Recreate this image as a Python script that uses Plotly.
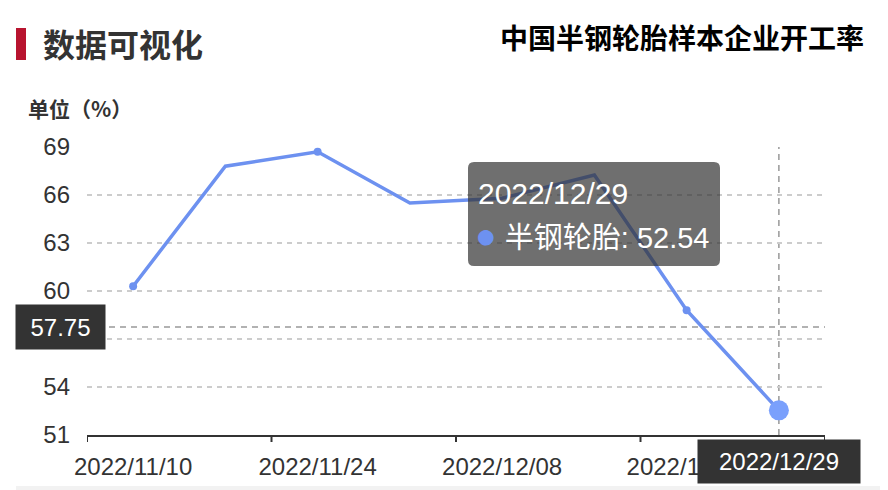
import plotly.graph_objects as go

# weekly semi-steel tyre operating rate (%)
dates = ["2022/11/10", "2022/11/17", "2022/11/24", "2022/12/01",
         "2022/12/08", "2022/12/15", "2022/12/22", "2022/12/29"]
rates = [60.3, 67.8, 68.7, 65.5, 65.8, 67.25, 58.8, 52.54]
y_ticks = [51, 54, 57, 60, 63, 66, 69]
pointer_y = 57.75
series_name = "半钢轮胎"

FONT = "Liberation Sans, Noto Sans CJK SC, sans-serif"
CJK = "Noto Sans CJK SC, sans-serif"
LINE_COLOR = "#6d91f0"

# the page body adds 8px on the top/left, so the figure is 8px smaller
OFF = 8
W, H = 888 - OFF, 490 - OFF
L, R, T, B = 87 - OFF, 63, 147 - OFF, 55
PW, PH = W - L - R, H - T - B


# screen pixels -> paper coords
def px_x(p):
    return (p - OFF - L) / PW


def px_y(p):
    return (H - B - (p - OFF)) / PH


def rounded_rect(x0, y0, x1, y1, r):
    rx, ry = r / PW, r / PH
    a, b, c, d = px_x(x0), px_x(x1), px_y(y0), px_y(y1)
    return (f"M {a + rx},{c} L {b - rx},{c} Q {b},{c} {b},{c - ry} "
            f"L {b},{d + ry} Q {b},{d} {b - rx},{d} L {a + rx},{d} "
            f"Q {a},{d} {a},{d + ry} L {a},{c - ry} Q {a},{c} {a + rx},{c} Z")


marker_sizes = [8, 0, 8, 0, 0, 0, 8, 20]
marker_colors = [LINE_COLOR] * 7 + ["#7aa0fc"]

fig = go.Figure()
fig.add_trace(go.Scatter(
    x=dates, y=rates, mode="lines+markers", name=series_name,
    line=dict(color=LINE_COLOR, width=3.5),
    marker=dict(size=marker_sizes, color=marker_colors, opacity=1,
                line=dict(width=0)),
    hoverinfo="skip",
))

fig.update_layout(
    width=W, height=H,
    margin=dict(l=L, r=R, t=T, b=B),
    paper_bgcolor="white", plot_bgcolor="white",
    showlegend=False,
    font=dict(family=FONT, color="#333333"),
)

fig.update_xaxes(
    type="category", categoryorder="array", categoryarray=dates,
    range=[-0.5, len(dates) - 0.5], automargin=False,
    tickvals=dates[::2], ticktext=dates[::2], tickangle=0,
    ticks="", ticklabelstandoff=9,
    showline=True, linecolor="#333333", linewidth=2,
    showgrid=False, zeroline=False,
    tickfont=dict(size=24, color="#333333", family=FONT),
)
fig.update_yaxes(
    range=[51, 69], tickvals=y_ticks, showgrid=True, automargin=False,
    gridcolor="#cccccc", gridwidth=1.5, griddash="5px,5px",
    zeroline=False, showline=False, ticks="",
    ticklabelstandoff=16,
    tickfont=dict(size=24, color="#333333", family=FONT),
)

shapes = [
    # axis pointer lines
    dict(type="line", xref="x", yref="y", x0=dates[-1], x1=dates[-1],
         y0=51, y1=69, line=dict(color="#999999", width=1.5, dash="6px,5px"),
         layer="below"),
    dict(type="line", xref="paper", yref="y", x0=0, x1=1,
         y0=pointer_y, y1=pointer_y,
         line=dict(color="#999999", width=1.5, dash="6px,5px"), layer="below"),
    # heading bar
    dict(type="rect", xref="paper", yref="paper", x0=px_x(16), x1=px_x(26),
         y0=px_y(28), y1=px_y(60), fillcolor="#b8142f", line=dict(width=0)),
    # bottom strip
    dict(type="rect", xref="paper", yref="paper", x0=px_x(16), x1=px_x(890),
         y0=px_y(486), y1=px_y(491), fillcolor="#f2f2f2", line=dict(width=0)),
    # tooltip box
    dict(type="path", xref="paper", yref="paper",
         path=rounded_rect(468, 162, 720, 266, 6),
         fillcolor="rgba(50,50,50,0.7)", line=dict(width=0), layer="above"),
]
# x ticks sit on the boundaries between every second category
for b in range(0, len(dates) + 1, 2):
    shapes.append(dict(type="line", xref="x", yref="paper", x0=b - 0.5,
                       x1=b - 0.5, y0=0, y1=-7 / PH,
                       line=dict(color="#333333", width=2)))
fig.update_layout(shapes=shapes)

annotations = [
    dict(text="<b>数据可视化</b>", x=px_x(41), y=px_y(43), xanchor="left",
         yanchor="middle", font=dict(size=32, color="#333333", family=CJK)),
    dict(text="<b>中国半钢轮胎样本企业开工率</b>", x=px_x(866), y=px_y(37),
         xanchor="right", yanchor="middle",
         font=dict(size=28, color="#000000", family=CJK)),
    dict(text="<b>单位（%）</b>", x=px_x(26), y=px_y(108), xanchor="left",
         yanchor="middle", font=dict(size=21, color="#333333", family=CJK)),
    # tooltip text
    dict(text=dates[-1], x=px_x(476), y=px_y(193), xanchor="left",
         yanchor="middle", font=dict(size=30, color="white", family=FONT)),
    dict(text=f"<span style='color:{LINE_COLOR};font-size:36px'>●</span> "
              f"{series_name}: {rates[-1]}",
         x=px_x(473), y=px_y(235), xanchor="left", yanchor="middle",
         font=dict(size=29, color="white", family=FONT)),
    # axis pointer labels
    dict(text=f"{pointer_y}", xref="paper", yref="y", x=px_x(60), y=pointer_y,
         xanchor="center", yanchor="middle", width=89, height=44,
         bgcolor="#333333", borderpad=0,
         font=dict(size=24, color="white", family=FONT)),
    dict(text=dates[-1], xref="x", yref="paper", x=dates[-1], y=px_y(461),
         xanchor="center", yanchor="middle", width=162, height=43,
         bgcolor="#333333", borderpad=0,
         font=dict(size=24, color="white", family=FONT)),
]
for a in annotations:
    a.setdefault("xref", "paper")
    a.setdefault("yref", "paper")
    a.setdefault("showarrow", False)
fig.update_layout(annotations=annotations)

fig.write_html("out.html")
